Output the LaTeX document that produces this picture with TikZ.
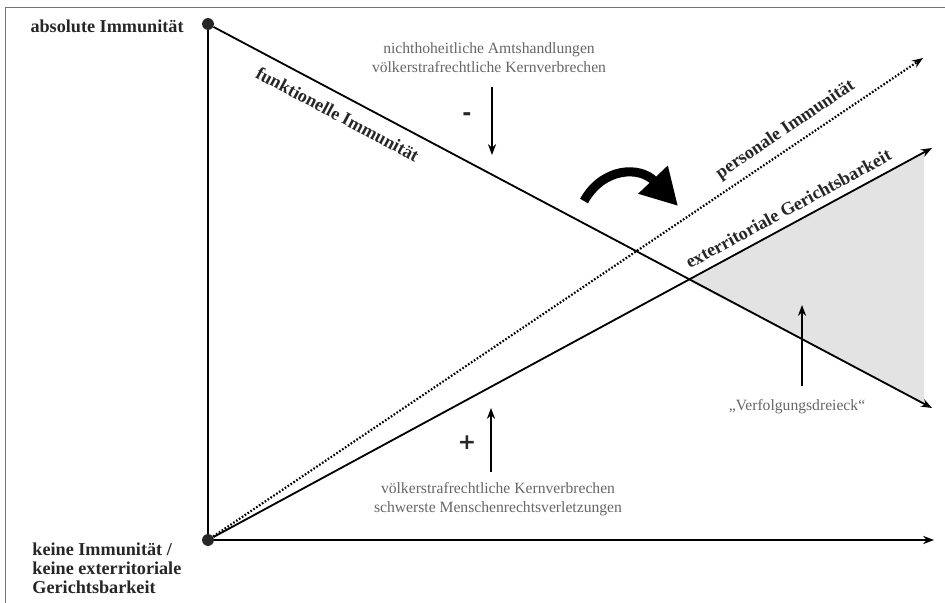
\documentclass[tikz,border=0pt]{standalone}
\usepackage{fontspec}
\setmainfont{Liberation Serif}
\newfontfamily\signfont{DejaVu Sans}
\usetikzlibrary{arrows.meta}

\begin{document}
\begin{tikzpicture}[x=0.55pt,y=-0.55pt,>={Stealth[length=6pt,width=4.5pt]},
  dot/.style={circle,fill=black!85,inner sep=0pt,minimum size=6.5pt},
  axlbl/.style={font=\fontsize{10}{10.5}\selectfont\bfseries,text=black!85,align=left},
  linelbl/.style={font=\bfseries,text=black!85,sloped},
  note/.style={font=\fontsize{8.6}{10.5}\selectfont,text=black!60,align=center},
  sign/.style={font=\signfont\bfseries\large,text=black!85}]
  \useasboundingbox (0,0) rectangle (945,603);
  \draw[black!55] (5,603) |- (945,7);
  % Verfolgungsdreieck
  \fill[black!11] (687,280) -- (924,152) -- (924,404) -- cycle;
  \node[dot] (absimm) at (208,24) {};
  \node[dot] (noimm) at (208,540) {};
  \coordinate (funkend) at (932,408);
  \coordinate (extend) at (932,148);
  \coordinate (persend) at (923,58);
  \coordinate (xend) at (934,540);
  \draw[line width=1pt] (absimm) -- (noimm);
  \draw[line width=1pt,->] (noimm) -- (xend);
  \draw[line width=1pt,->] (absimm) -- (funkend)
    node[linelbl,below=3pt,pos=0.185] {funktionelle Immunität};
  \draw[line width=1pt,->] (noimm) -- (extend)
    node[linelbl,above=1pt,pos=0.81] {exterritoriale Gerichtsbarkeit};
  \draw[line width=1.2pt,dash pattern=on 0.9pt off 1pt,->] (noimm) -- (persend)
    node[linelbl,above=1pt,pos=0.82] {personale Immunität};
  % Beschriftung links
  \node[axlbl,anchor=east] (abslbl) at (190,26) {absolute Immunität};
  \node[axlbl,anchor=north west] (nolbl) at (26,536) {keine Immunität /\\keine exterritoriale\\Gerichtsbarkeit};
  % oben: minus
  \node[note] (topnote) at (489,58) {nichthoheitliche Amtshandlungen\\völkerstrafrechtliche Kernverbrechen};
  \coordinate (mtip) at (492,155);
  \draw[line width=0.9pt,->] ([yshift=-4pt]topnote.south -| mtip) -- (mtip);
  \node[sign] (minus) at (467,117) {-};
  % unten: plus
  \node[note] (botnote) at (498,499) {völkerstrafrechtliche Kernverbrechen\\schwerste Menschenrechtsverletzungen};
  \coordinate (ptip) at (491,408);
  \draw[line width=0.9pt,->] ([yshift=2pt]botnote.north -| ptip) -- (ptip);
  \node[sign] (plus) at (467,443) {+};
  % Dreieck
  \node[note] (verf) at (797,407) {„Verfolgungsdreieck“};
  \coordinate (vtip) at (802,305);
  \draw[line width=0.8pt,->] ([yshift=4pt]verf.north -| vtip) -- (vtip);
  % Verschiebung
  \draw[line width=5pt,-{Triangle[length=20pt,width=21pt]}]
    (584,201) .. controls (603,167) and (640,166) .. (678,206);
\end{tikzpicture}
\end{document}
